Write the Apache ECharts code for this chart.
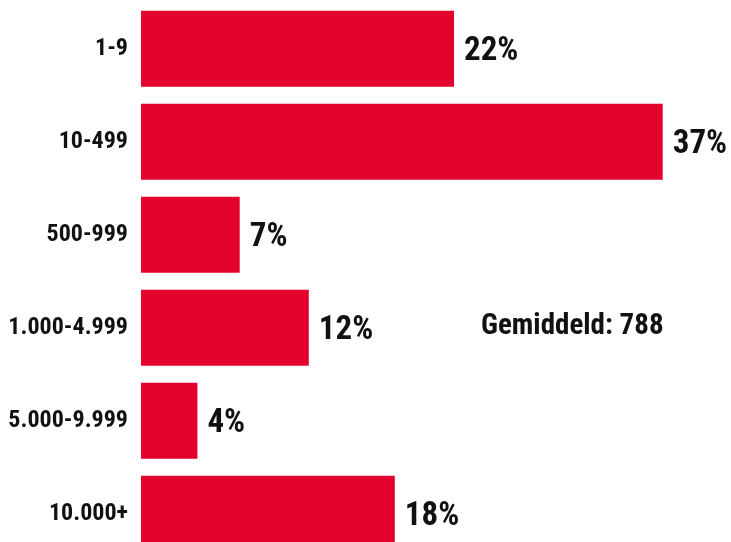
<!DOCTYPE html>
<html>
<head>
<meta charset="utf-8">
<script src="https://cdn.jsdelivr.net/npm/echarts@6/dist/echarts.min.js"></script>
<style>
  html, body { margin: 0; padding: 0; background: #fff; }
  #chart { width: 731px; height: 542px; }
</style>
</head>
<body>
<div id="chart"></div>
<script>
// categorieën en aandelen (%)
const categories = ['1-9', '10-499', '500-999', '1.000-4.999', '5.000-9.999', '10.000+'];
const shares = [22.2, 37.0, 7.0, 11.9, 4.0, 18.0];
const averageText = 'Gemiddeld: 788';

const FONT = "'Roboto Condensed', 'Open Sans Condensed', 'Liberation Sans Narrow', 'Open Sans', sans-serif";
const WEIGHT = 'bold condensed';
const RED = '#E4032E';

const chart = echarts.init(document.getElementById('chart'));

const option = {
    animation: false,
    grid: {
        left: 141,
        top: 2.3,
        width: 564,
        height: 558,
        outerBoundsMode: 'none',
        containLabel: false
    },
    xAxis: {
        type: 'value',
        min: 0,
        max: 40,
        show: false
    },
    yAxis: {
        type: 'category',
        data: categories,
        inverse: true,
        axisLine: { show: false },
        axisTick: { show: false },
        splitLine: { show: false },
        axisLabel: {
            margin: 13,
            padding: [5, 0, 0, 0],
            color: '#111',
            fontFamily: FONT,
            fontWeight: WEIGHT,
            fontSize: 24
        }
    },
    series: [{
        type: 'bar',
        data: shares,
        barCategoryGap: '18.3%',
        itemStyle: { color: RED },
        label: {
            show: true,
            position: 'right',
            distance: 10,
            offset: [0, 3],
            color: '#111',
            fontFamily: FONT,
            fontWeight: WEIGHT,
            fontSize: 33,
            formatter: p => Math.round(p.value) + '%'
        }
    }],
    graphic: [{
        type: 'text',
        left: 481,
        top: 312,
        style: {
            text: averageText,
            fill: '#111',
            font: WEIGHT + ' 29px ' + FONT
        }
    }]
};

chart.setOption(option);
</script>
</body>
</html>
